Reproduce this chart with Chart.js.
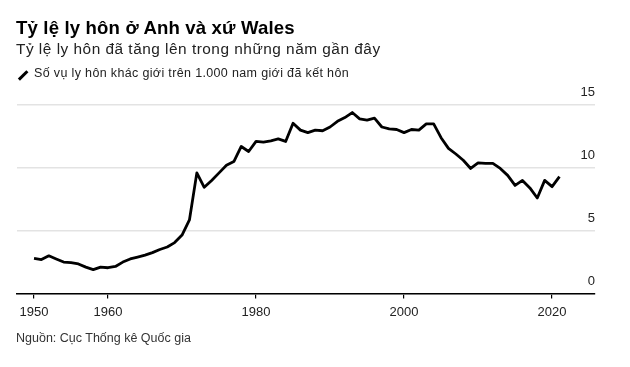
<!DOCTYPE html>
<html>
<head>
<meta charset="utf-8">
<script src="https://cdn.jsdelivr.net/npm/chart.js@4/dist/chart.umd.min.js"></script>
<style>
  body { margin: 0; background: #fff; font-family: "Liberation Sans", Arial, sans-serif; }
  #wrap { position: relative; width: 630px; height: 367px; overflow: hidden; }
  #chart { position: absolute; left: 0; top: 0; }
  .txt { position: absolute; left: 16px; white-space: nowrap; line-height: 1; }
  #title { top: 19px; font-size: 18.6px; font-weight: bold; color: #000; letter-spacing: 0.15px; }
  #subtitle { top: 41px; font-size: 15.4px; color: #222; letter-spacing: 0.5px; }
  #legend { top: 67px; left: 34px; font-size: 12.5px; color: #222; letter-spacing: 0.35px; }
  #legendIcon { position: absolute; left: 17px; top: 74px; width: 12px; height: 2.6px; background: #000; transform: rotate(-45deg); }
  #source { top: 332px; font-size: 12.5px; color: #333; }
</style>
</head>
<body>
<div id="wrap">
  <canvas id="chart" width="630" height="367"></canvas>
  <div class="txt" id="title">Tỷ lệ ly hôn ở Anh và xứ Wales</div>
  <div class="txt" id="subtitle">Tỷ lệ ly hôn đã tăng lên trong những năm gần đây</div>
  <div id="legendIcon"></div>
  <div class="txt" id="legend">Số vụ ly hôn khác giới trên 1.000 nam giới đã kết hôn</div>
  <div class="txt" id="source">Nguồn: Cục Thống kê Quốc gia</div>
</div>
<script>
// years and divorce rate
const years = [
  1950, 1951, 1952, 1953, 1954, 1955, 1956, 1957, 1958, 1959,
  1960, 1961, 1962, 1963, 1964, 1965, 1966, 1967, 1968, 1969,
  1970, 1971, 1972, 1973, 1974, 1975, 1976, 1977, 1978, 1979,
  1980, 1981, 1982, 1983, 1984, 1985, 1986, 1987, 1988, 1989,
  1990, 1991, 1992, 1993, 1994, 1995, 1996, 1997, 1998, 1999,
  2000, 2001, 2002, 2003, 2004, 2005, 2006, 2007, 2008, 2009,
  2010, 2011, 2012, 2013, 2014, 2015, 2016, 2017, 2018, 2019,
  2020, 2021
];
const rates = [
  2.8, 2.7, 3.0, 2.75, 2.5, 2.45, 2.35, 2.1, 1.9, 2.1,
  2.05, 2.15, 2.5, 2.75, 2.9, 3.05, 3.25, 3.5, 3.7, 4.05,
  4.65, 5.85, 9.6, 8.45, 9.0, 9.6, 10.2, 10.5, 11.7, 11.3,
  12.1, 12.05, 12.15, 12.3, 12.1, 13.55, 13.0, 12.8, 13.0, 12.95,
  13.25, 13.7, 14.0, 14.4, 13.9, 13.8, 13.95, 13.25, 13.1, 13.05,
  12.8, 13.05, 13.0, 13.5, 13.5, 12.4, 11.55, 11.1, 10.6, 9.95,
  10.4, 10.35, 10.35, 9.95, 9.4, 8.6, 9.0, 8.4, 7.6, 9.0,
  8.5, 9.3
];
const xTicks = [1950, 1960, 1980, 2000, 2020];
const yTicks = [0, 5, 10, 15];

// y labels sit just above their gridlines, right aligned
const yLabels = {
  id: 'yLabels',
  afterDraw(chart) {
    const ctx = chart.ctx;
    const y = chart.scales.y;
    ctx.save();
    ctx.font = '13px "Liberation Sans", Arial, sans-serif';
    ctx.fillStyle = '#222';
    ctx.textAlign = 'right';
    ctx.textBaseline = 'middle';
    yTicks.forEach(v => {
      ctx.fillText(String(v), chart.chartArea.right, y.getPixelForValue(v) - 12.5);
    });
    ctx.restore();
  }
};

const ctx = document.getElementById('chart').getContext('2d');
new Chart(ctx, {
  type: 'line',
  data: {
    datasets: [{
      data: years.map((yr, i) => ({ x: yr, y: rates[i] })),
      borderColor: '#000',
      borderWidth: 2.8,
      borderJoinStyle: 'round',
      tension: 0,
      pointRadius: 0,
      fill: false
    }]
  },
  options: {
    responsive: false,
    animation: false,
    layout: { padding: { left: 17, right: 35, top: 105, bottom: 0 } },
    plugins: { legend: { display: false }, tooltip: { enabled: false } },
    scales: {
      x: {
        type: 'linear',
        min: 1947.7,
        max: 2025.8,
        afterBuildTicks: s => { s.ticks = xTicks.map(v => ({ value: v })); },
        afterFit: s => { s.height = 367 - 293.5; },
        grid: { drawOnChartArea: false, drawTicks: true, tickLength: 5, color: '#000', lineWidth: 1.2 },
        border: { display: true, color: '#000', width: 1.6 },
        ticks: {
          color: '#222',
          padding: 6,
          maxRotation: 0,
          font: { family: '"Liberation Sans", Arial, sans-serif', size: 13 },
          callback: v => String(v)
        }
      },
      y: {
        min: 0,
        max: 15,
        afterBuildTicks: s => { s.ticks = yTicks.map(v => ({ value: v })); },
        afterFit: s => { s.width = 0; },
        grid: { color: '#e3e3e3', lineWidth: 1.6, drawTicks: false },
        border: { display: false },
        ticks: { display: false }
      }
    }
  },
  plugins: [yLabels]
});
</script>
</body>
</html>
